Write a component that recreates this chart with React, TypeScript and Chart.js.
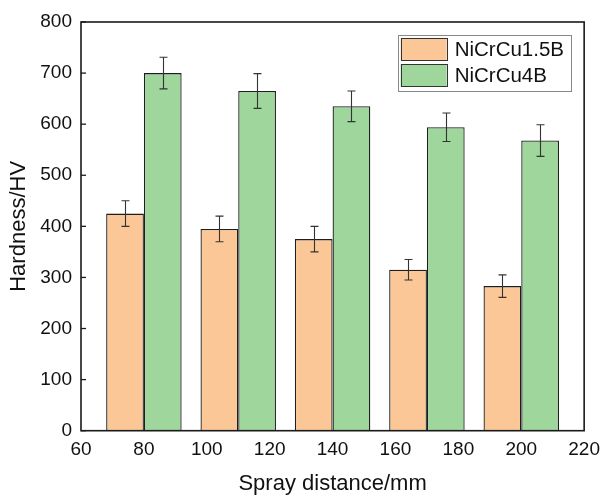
import React, { useEffect, useRef } from "react";
import { Chart, registerables } from "chart.js";

Chart.register(...registerables);

// ---- data ----
const distances = [80, 110, 140, 170, 200];
const seriesNames = ["NiCrCu1.5B", "NiCrCu4B"];
const hardness15B = [425, 395, 375, 315, 283];
const error15B = [25, 25, 25, 20, 22];
const hardness4B = [700, 665, 635, 594, 568];
const error4B = [31, 34, 30, 28, 31];
const xMin = 60;
const xMax = 220;
const xStep = 20;
const yMin = 0;
const yMax = 800;
const yStep = 100;
const xTitle = "Spray distance/mm";
const yTitle = "Hardness/HV";

const FONT = "'Liberation Sans', Arial, sans-serif";
const ORANGE = "rgb(252,199,151)";
const GREEN = "rgb(158,214,155)";
const TEXT = "#111";
const errors = [error15B, error4B];

const framePlugin = {
  id: "frame",
  afterDatasetsDraw(chart: any) {
    const { ctx, chartArea, scales } = chart;
    const ys = scales.y;
    ctx.save();
    // error bars
    chart.data.datasets.forEach((ds: any, i: number) => {
      const meta = chart.getDatasetMeta(i);
      meta.data.forEach((el: any, j: number) => {
        const v = ds.data[j].y;
        const e = errors[i][j];
        const yt = ys.getPixelForValue(v + e);
        const yb = ys.getPixelForValue(v - e);
        const x = Math.round(el.x) + 0.5;
        ctx.strokeStyle = "#333";
        ctx.lineWidth = 1.1;
        ctx.beginPath();
        ctx.moveTo(x, yt);
        ctx.lineTo(x, yb);
        ctx.moveTo(x - 4, yt);
        ctx.lineTo(x + 4, yt);
        ctx.moveTo(x - 4, yb);
        ctx.lineTo(x + 4, yb);
        ctx.stroke();
      });
    });
    // inward y ticks
    ctx.strokeStyle = "#1a1a1a";
    ctx.lineWidth = 1.3;
    ys.ticks.forEach((t: any) => {
      const y = ys.getPixelForValue(t.value);
      ctx.beginPath();
      ctx.moveTo(chartArea.left, y);
      ctx.lineTo(chartArea.left + 5, y);
      ctx.stroke();
    });
    // frame
    ctx.lineWidth = 1.6;
    ctx.strokeStyle = "#1a1a1a";
    ctx.strokeRect(
      chartArea.left,
      chartArea.top,
      chartArea.right - chartArea.left,
      chartArea.bottom - chartArea.top
    );
    // legend
    const bw = 173;
    const bh = 56;
    const bx = chartArea.right - 13.5 - bw;
    const by = chartArea.top + 13;
    ctx.fillStyle = "#fff";
    ctx.fillRect(bx, by, bw, bh);
    ctx.strokeStyle = "#888";
    ctx.lineWidth = 1;
    ctx.strokeRect(Math.round(bx) + 0.5, Math.round(by) + 0.5, bw, bh);
    chart.data.datasets.forEach((ds: any, i: number) => {
      const sy = by + 3 + i * 26;
      ctx.fillStyle = ds.backgroundColor;
      ctx.fillRect(bx + 3, sy, 46, 23);
      ctx.strokeStyle = "#333";
      ctx.lineWidth = 1;
      ctx.strokeRect(Math.round(bx + 3) + 0.5, Math.round(sy) + 0.5, 46, 22);
      ctx.fillStyle = TEXT;
      ctx.font = `20.5px ${FONT}`;
      ctx.textBaseline = "middle";
      ctx.textAlign = "left";
      ctx.fillText(ds.label, bx + 57, sy + 12);
    });
    ctx.restore();
  },
};

function ChartView() {
  const ref = useRef<HTMLCanvasElement | null>(null);
  useEffect(() => {
    if (!ref.current) return;
    const chart = new Chart(ref.current, {
      type: "bar",
      data: {
        datasets: [
          {
            label: seriesNames[0],
            data: distances.map((x, i) => ({ x, y: hardness15B[i] })),
            backgroundColor: ORANGE,
            borderColor: "#1e1e1e",
            borderWidth: 1.3,
          },
          {
            label: seriesNames[1],
            data: distances.map((x, i) => ({ x, y: hardness4B[i] })),
            backgroundColor: GREEN,
            borderColor: "#1e1e1e",
            borderWidth: 1.3,
          },
        ],
      },
      options: {
        animation: false,
        responsive: false,
        devicePixelRatio: 1,
        categoryPercentage: 1.2,
        barPercentage: 1,
        layout: { padding: { top: 22, right: 20.5, left: 0, bottom: 0 } },
        plugins: {
          legend: { display: false },
          tooltip: { enabled: false },
        },
        scales: {
          x: {
            type: "linear",
            min: xMin,
            max: xMax,
            offset: false,
            grid: { display: false, drawTicks: false },
            border: { display: false },
            ticks: {
              stepSize: xStep,
              color: TEXT,
              padding: 8,
              font: { family: FONT, size: 19 },
              maxRotation: 0,
            },
            title: {
              display: true,
              text: xTitle,
              color: TEXT,
              font: { family: FONT, size: 22 },
              padding: { top: 0, bottom: 0 },
            },
            afterFit(scale: any) {
              scale.height = 66.3;
            },
          },
          y: {
            type: "linear",
            min: yMin,
            max: yMax,
            grid: { display: false, drawTicks: false },
            border: { display: false },
            ticks: {
              stepSize: yStep,
              color: TEXT,
              padding: 9,
              font: { family: FONT, size: 19 },
            },
            title: {
              display: true,
              text: yTitle,
              color: TEXT,
              font: { family: FONT, size: 22 },
              padding: { top: 6, bottom: 0 },
            },
            afterFit(scale: any) {
              scale.width = 81;
            },
          },
        },
      },
      plugins: [framePlugin],
    } as any);
    return () => chart.destroy();
  }, []);
  return <canvas ref={ref} width={608} height={497} style={{ display: "block" }} />;
}

export default function App() {
  return (
    <div style={{ position: "fixed", left: 0, top: 0, width: 608, height: 497, background: "#fff" }}>
      <ChartView />
    </div>
  );
}
